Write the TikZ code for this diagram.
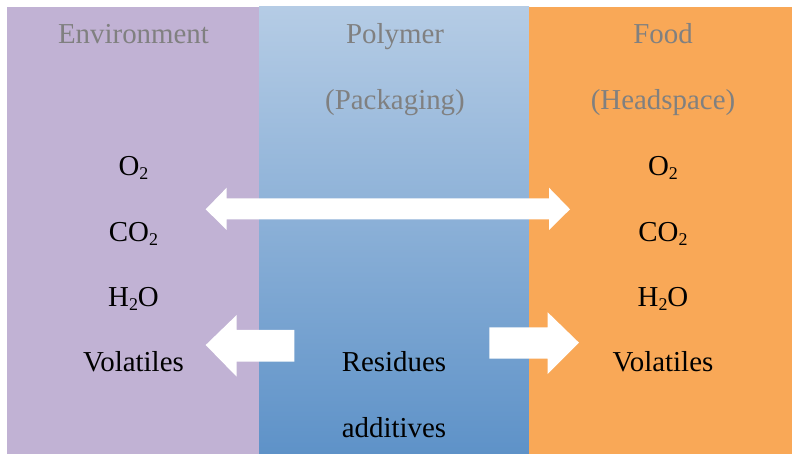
\documentclass[tikz,border=0pt]{standalone}
\usepackage{fontspec}
\setmainfont{Liberation Serif}
\definecolor{envpurple}{RGB}{193,178,212}
\definecolor{foodorange}{RGB}{249,168,87}
\definecolor{polytop}{RGB}{181,204,229}
\definecolor{polybottom}{RGB}{94,146,200}
\definecolor{headgray}{RGB}{128,128,128}
\newcommand{\sub}[1]{\raisebox{-4bp}{\fontsize{18}{18}\selectfont #1}}
\tikzset{
  lbl/.style={anchor=base, inner sep=0pt, font=\fontsize{29}{29}\selectfont},
  head/.style={lbl, text=headgray},
  item/.style={lbl, text=black},
  flow/.style={fill=white, draw=none}
}
\begin{document}
\begin{tikzpicture}[x=1bp, y=-1bp]
  \useasboundingbox (0,0) rectangle (792,454);
  \fill[white] (0,0) rectangle (792,454);
  % three layers: environment, packaging polymer, food headspace
  \fill[envpurple] (7,7) rectangle (259,454);
  \shade[top color=polytop, bottom color=polybottom] (259,7) rectangle (529,454);
  \fill[foodorange] (529,7) rectangle (792,454);

  % column headings
  \node[head] (env)  at (133.5,44) {Environment};
  \node[head] (poly) at (395,44)   {Polymer};
  \node[head] (pack) at (395,110)  {(Packaging)};
  \node[head] (food) at (663,44)   {Food};
  \node[head] (hsp)  at (663,110)  {(Headspace)};

  % permeating species
  \node[item] (eo2)  at (133.5,176) {O\sub{2}};
  \node[item] (eco2) at (133.5,242) {CO\sub{2}};
  \node[item] (eh2o) at (133.5,307) {H\sub{2}O};
  \node[item] (evol) at (133.5,372) {Volatiles};
  \node[item] (fo2)  at (663,176)   {O\sub{2}};
  \node[item] (fco2) at (663,242)   {CO\sub{2}};
  \node[item] (fh2o) at (663,307)   {H\sub{2}O};
  \node[item] (fvol) at (663,372)   {Volatiles};

  % migrating species
  \node[item] (res) at (394,372) {Residues};
  \node[item] (add) at (394,437) {additives};

  % two-way permeation through the polymer
  \fill[flow] (205.7,209.3) -- (226.7,187.7) -- (226.7,198.3) -- (549,198.3)
    -- (549,187.7) -- (570,209.3) -- (549,230) -- (549,219.3)
    -- (226.7,219.3) -- (226.7,230) -- cycle;

  % migration out of the polymer towards the environment
  \fill[flow] (205.7,345) -- (236.7,315) -- (236.7,330) -- (294.3,330)
    -- (294.3,361.7) -- (236.7,361.7) -- (236.7,376.7) -- cycle;

  % migration out of the polymer towards the food
  \fill[flow] (489.3,327.3) -- (547.7,327.3) -- (547.7,312.3) -- (579,342.7)
    -- (547.7,374) -- (547.7,358.7) -- (489.3,358.7) -- cycle;
\end{tikzpicture}
\end{document}
